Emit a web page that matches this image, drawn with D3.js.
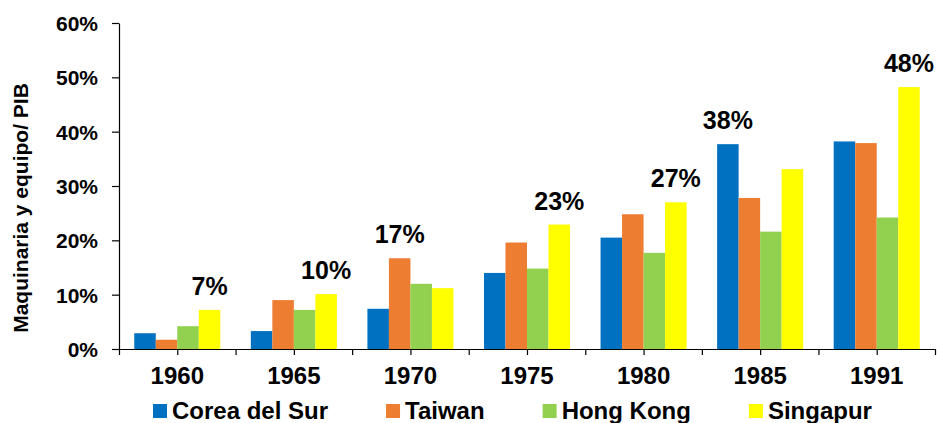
<!DOCTYPE html>
<html>
<head>
<meta charset="utf-8">
<script src="https://cdn.jsdelivr.net/npm/d3@7"></script>
<style>
  body { margin: 0; background: #fff; }
  text { font-family: "Liberation Sans", Arial, sans-serif; font-weight: bold; fill: #000; }
</style>
</head>
<body>
<div id="chart"></div>
<script>
const years = ["1960", "1965", "1970", "1975", "1980", "1985", "1991"];
const series = ["Corea del Sur", "Taiwan", "Hong Kong", "Singapur"];
const colors = ["#0070C0", "#ED7D31", "#92D050", "#FFFF00"];

// porcentaje del PIB, por serie
const corea = [2.9, 3.3, 7.4, 14.0, 20.5, 37.7, 38.2];
const taiwan = [1.7, 9.0, 16.7, 19.6, 24.8, 27.8, 37.9];
const hongKong = [4.2, 7.2, 12.0, 14.8, 17.7, 21.6, 24.2];
const singapur = [7.2, 10.1, 11.2, 22.9, 27.0, 33.1, 48.2];

const yTicks = [0, 10, 20, 30, 40, 50, 60];

const values = [corea, taiwan, hongKong, singapur];

const W = 937, H = 423;
const margin = { top: 23, right: 2, bottom: 74, left: 119 };
const width = W - margin.left - margin.right;
const height = H - margin.top - margin.bottom;

const svg = d3.select("#chart").append("svg")
  .attr("width", W)
  .attr("height", H);

const g = svg.append("g")
  .attr("transform", `translate(${margin.left}, ${margin.top})`);

const x0 = d3.scaleBand()
  .domain(years)
  .range([0, width])
  .paddingInner(0.262)
  .paddingOuter(0.131);

const x1 = d3.scaleBand()
  .domain(series)
  .range([0, x0.bandwidth()]);

const y = d3.scaleLinear()
  .domain([0, 60])
  .range([height, 0]);

const color = d3.scaleOrdinal().domain(series).range(colors);

// barras
const groups = g.selectAll(".group")
  .data(years)
  .enter().append("g")
  .attr("class", "group")
  .attr("transform", d => `translate(${x0(d)}, 0)`);

groups.selectAll("rect")
  .data((d, i) => series.map((s, j) => ({ s: s, v: values[j][i] })))
  .enter().append("rect")
  .attr("x", d => x1(d.s))
  .attr("width", x1.bandwidth())
  .attr("y", d => y(d.v))
  .attr("height", d => height - y(d.v))
  .attr("fill", d => color(d.s));

// etiqueta del máximo de cada año
groups.each(function(d, i) {
  const col = series.map((s, j) => ({ s: s, v: values[j][i] }));
  const top = col.reduce((a, b) => (b.v > a.v ? b : a));
  d3.select(this).append("text")
    .attr("x", x1(top.s) + x1.bandwidth() / 2)
    .attr("y", y(top.v) - 15)
    .attr("text-anchor", "middle")
    .style("font-size", "25px")
    .text(Math.round(top.v) + "%");
});

// eje Y
const yAxis = g.append("g")
  .call(d3.axisLeft(y)
    .tickValues(yTicks)
    .tickSize(7)
    .tickSizeOuter(0)
    .tickPadding(14)
    .tickFormat(d => d + "%"));

yAxis.selectAll("text").style("font-size", "21px").attr("dy", "0.36em");
yAxis.selectAll("line, path").attr("stroke", "#000").attr("stroke-width", 1.2);

// eje X: marcas en bordes y centros de cada categoría
const xt = d3.scaleLinear().domain([0, years.length]).range([0, width]);
const xAxis = g.append("g")
  .attr("transform", `translate(0, ${height})`)
  .call(d3.axisBottom(xt)
    .tickValues(d3.range(0, years.length + 0.5, 0.5))
    .tickSize(6)
    .tickSizeOuter(0)
    .tickFormat(""));
xAxis.selectAll("line, path").attr("stroke", "#000").attr("stroke-width", 1.2);

const xLabels = g.append("g")
  .attr("transform", `translate(0, ${height})`)
  .call(d3.axisBottom(x0).tickSize(0).tickPadding(18));
xLabels.select(".domain").remove();
xLabels.selectAll("text").style("font-size", "24px").attr("dy", "0.71em");

// título del eje Y
svg.append("text")
  .attr("transform", `translate(28, ${margin.top + height / 2 + 22}) rotate(-90)`)
  .attr("text-anchor", "middle")
  .style("font-size", "21px")
  .text("Maquinaria y equipo/ PIB");

// leyenda
const legend = svg.append("g")
  .attr("transform", `translate(153, ${H - 4})`);

let lx = 0;
series.forEach((s, i) => {
  const item = legend.append("g").attr("transform", `translate(${lx}, 0)`);
  item.append("rect")
    .attr("x", 0)
    .attr("y", -15)
    .attr("width", 14)
    .attr("height", 14)
    .attr("fill", colors[i]);
  const t = item.append("text")
    .attr("x", 19)
    .attr("y", 0)
    .style("font-size", "24px")
    .text(s);
  lx += 19 + t.node().getComputedTextLength() + 58;
});
</script>
</body>
</html>
